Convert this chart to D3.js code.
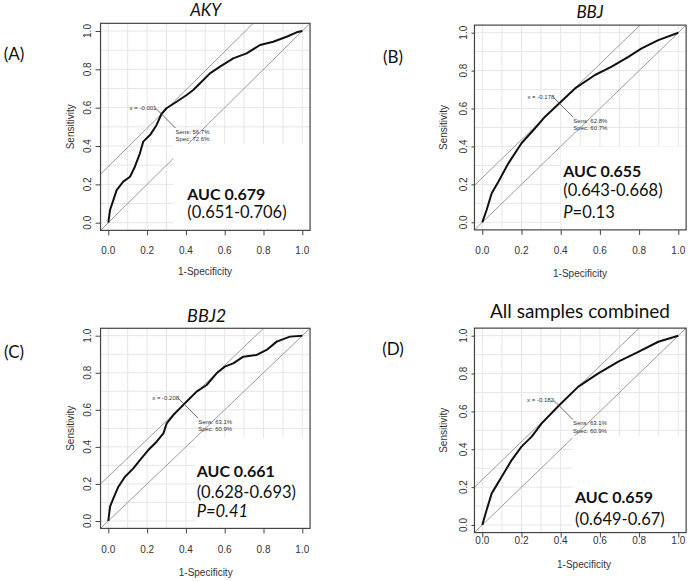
<!DOCTYPE html>
<html><head><meta charset="utf-8">
<script src="https://cdn.jsdelivr.net/npm/d3@7"></script>
<style>body{margin:0;background:#fff}</style></head>
<body><svg id="c" width="689" height="581"></svg>
<script>
// ---------- data ----------
const panelLetters = ["(A)", "(B)", "(C)", "(D)"];
const titles = ["AKY", "BBJ", "BBJ2", "All samples combined"];
const titleItalic = [true, true, true, false];
const aucLabels = ["AUC 0.679", "AUC 0.655", "AUC 0.661", "AUC 0.659"];
const ciLabels = ["(0.651-0.706)", "(0.643-0.668)", "(0.628-0.693)", "(0.649-0.67)"];
const pValues = [null, "0.13", "0.41", null];
const thresholdLabels = ["x = -0.001", "x = -0.178", "x = -0.208", "x = -0.182"];
const sensLabels = ["Sens: 56.7%", "Sens: 62.8%", "Sens: 63.1%", "Sens: 63.1%"];
const specLabels = ["Spec: 72.6%", "Spec: 60.7%", "Spec: 60.9%", "Spec: 60.9%"];
const cutFpr = [0.274, 0.393, 0.391, 0.391];
const cutTpr = [0.567, 0.628, 0.631, 0.631];
const tickValues = [0, 0.2, 0.4, 0.6, 0.8, 1.0];
const gridValues = [0, 0.1, 0.2, 0.3, 0.4, 0.5, 0.6, 0.7, 0.8, 0.9, 1.0];

const fprA = [0,0.009,0.026,0.043,0.077,0.112,0.137,0.163,0.180,0.215,0.249,0.274,0.30,0.352,0.404,0.438,0.473,0.524,0.576,0.644,0.713,0.782,0.85,0.919,0.971,1.0];
const tprA = [0,0.066,0.118,0.17,0.214,0.24,0.292,0.362,0.423,0.457,0.51,0.567,0.597,0.631,0.666,0.692,0.727,0.779,0.814,0.857,0.883,0.927,0.944,0.97,0.993,1.0];
const fprB = [0,0.022,0.048,0.082,0.133,0.2,0.269,0.32,0.393,0.473,0.575,0.66,0.745,0.813,0.898,1.0];
const tprB = [0,0.065,0.153,0.214,0.311,0.417,0.496,0.557,0.628,0.706,0.777,0.821,0.873,0.917,0.961,1.0];
const fprC = [0,0.009,0.026,0.052,0.086,0.129,0.163,0.206,0.249,0.284,0.301,0.335,0.369,0.391,0.455,0.507,0.558,0.601,0.644,0.696,0.765,0.816,0.868,0.936,1.0];
const tprC = [0,0.077,0.122,0.185,0.239,0.284,0.329,0.383,0.428,0.473,0.527,0.572,0.608,0.631,0.698,0.734,0.797,0.833,0.851,0.887,0.896,0.923,0.968,0.995,1.0];
const fprD = [0,0.022,0.048,0.099,0.15,0.2,0.252,0.303,0.391,0.49,0.592,0.694,0.796,0.898,1.0];
const tprD = [0,0.079,0.167,0.255,0.343,0.414,0.467,0.537,0.631,0.731,0.801,0.863,0.915,0.968,1.0];
const curves = [[fprA,tprA],[fprB,tprB],[fprC,tprC],[fprD,tprD]];

// ---------- layout ----------
const layout = [
  {xr:[108.3,302.3], yr:[222.7,31.0], title:[205.7,16,17], lab:[14,60], auc:[187.3,[199.5,218,236]], xtY:254, xtitle:[205,275], ytX:91, ytitleX:74, box:[0.335,0.41]},
  {xr:[482.3,678.3], yr:[222.3,32.7], title:[590,18,17], lab:[393,63], auc:[563.3,[176.5,196,218]], xtY:254, xtitle:[580,277], ytX:467, ytitleX:447, box:[0.40,0.40]},
  {xr:[108.3,302.3], yr:[521.0,335.7], title:[206.7,321.5,18], lab:[14,358], auc:[196.7,[476.5,498,517]], xtY:553, xtitle:[205.7,576], ytX:91, ytitleX:74, box:[0.45,0.45]},
  {xr:[482.3,678.3], yr:[525.0,335.7], title:[580,318,19], lab:[393,355], auc:[575,[503,524.5,545]], xtY:544, xtitle:[584,568], ytX:467, ytitleX:447, box:[0.46,0.47]}
];

const svg = d3.select("#c");
const axisFont = "'Liberation Sans Narrow','Liberation Sans',Arial,sans-serif";
const textFont = "Lato,'Open Sans',sans-serif";

layout.forEach((L, i) => {
  const x = d3.scaleLinear().domain([0,1]).range(L.xr);
  const y = d3.scaleLinear().domain([0,1]).range(L.yr);
  const x0 = x(-0.04), x1 = x(1.04), y0 = y(-0.04), y1 = y(1.04);
  const g = svg.append("g");
  const clipId = "clip" + i;
  g.append("clipPath").attr("id", clipId).append("rect")
    .attr("x", x0).attr("y", y1).attr("width", x1 - x0).attr("height", y0 - y1);
  const pg = g.append("g").attr("clip-path", `url(#${clipId})`);

  // grid
  pg.selectAll(".gx").data(gridValues).join("line")
    .attr("x1", d => x(d)).attr("x2", d => x(d)).attr("y1", y1).attr("y2", y0)
    .attr("stroke", "#e6e6e6").attr("stroke-width", 1);
  pg.selectAll(".gy").data(gridValues).join("line")
    .attr("y1", d => y(d)).attr("y2", d => y(d)).attr("x1", x0).attr("x2", x1)
    .attr("stroke", "#e6e6e6").attr("stroke-width", 1);

  // chance diagonal and parallel line through cut-point
  const intercept = cutTpr[i] - cutFpr[i];
  pg.append("line").attr("x1", x(-0.04)).attr("y1", y(-0.04)).attr("x2", x(1.04)).attr("y2", y(1.04))
    .attr("stroke", "#9a9a9a").attr("stroke-width", 1);
  pg.append("line").attr("x1", x(-0.04)).attr("y1", y(-0.04 + intercept)).attr("x2", x(1.04)).attr("y2", y(1.04 + intercept))
    .attr("stroke", "#9a9a9a").attr("stroke-width", 1);

  // white box behind AUC text
  pg.append("rect").attr("x", x(L.box[0])).attr("y", y(L.box[1]))
    .attr("width", x1 - x(L.box[0])).attr("height", y0 - y(L.box[1])).attr("fill", "#fff");

  // ROC curve
  const [fx, ty] = curves[i];
  const pts = fx.map((v, k) => [v, ty[k]]);
  pg.append("path").datum(pts)
    .attr("d", d3.line().x(d => x(d[0])).y(d => y(d[1])))
    .attr("fill", "none").attr("stroke", "#111").attr("stroke-width", 2).attr("stroke-linejoin", "round");

  // cut-point annotation
  const cx = x(cutFpr[i]), cy = y(cutTpr[i]);
  g.append("line").attr("x1", cx - 6).attr("y1", cy - 6).attr("x2", cx + 14).attr("y2", cy + 14)
    .attr("stroke", "#444").attr("stroke-width", 0.8);
  g.append("text").attr("x", cx - 5).attr("y", cy - 4).attr("text-anchor", "end")
    .attr("font-family", axisFont).attr("font-size", 6).attr("fill", "#333").text(thresholdLabels[i]);
  g.append("text").attr("x", cx + 14).attr("y", cy + 19.5)
    .attr("font-family", axisFont).attr("font-size", 6).attr("fill", "#333").text(sensLabels[i]);
  g.append("text").attr("x", cx + 14).attr("y", cy + 27)
    .attr("font-family", axisFont).attr("font-size", 6).attr("fill", "#333").text(specLabels[i]);

  // frame
  g.append("rect").attr("x", x0).attr("y", y1).attr("width", x1 - x0).attr("height", y0 - y1)
    .attr("fill", "none").attr("stroke", "#444").attr("stroke-width", 1.2);

  // axes
  const xa = d3.axisBottom(x).tickValues(tickValues).tickFormat(d3.format(".1f")).tickSize(5).tickPadding(6);
  const xg = g.append("g").attr("transform", `translate(0,${y0})`).call(xa);
  xg.select(".domain").remove();
  xg.selectAll("line").attr("stroke", "#444");
  xg.selectAll("text").remove();
  g.selectAll(".xtl").data(tickValues).join("text")
    .attr("x", d => x(d)).attr("y", L.xtY).attr("text-anchor", "middle")
    .attr("font-family", axisFont).attr("font-size", 10).attr("fill", "#333")
    .text(d3.format(".1f"));
  const ya = d3.axisLeft(y).tickValues(tickValues).tickSize(i % 2 ? 3 : 5);
  const yg = g.append("g").attr("transform", `translate(${x0},0)`).call(ya);
  yg.select(".domain").remove();
  yg.selectAll("line").attr("stroke", "#444");
  yg.selectAll("text").remove();
  g.selectAll(".ytl").data(tickValues).join("text")
    .attr("transform", d => `translate(${L.ytX},${y(d)}) rotate(-90)`).attr("text-anchor", "middle")
    .attr("font-family", axisFont).attr("font-size", 10).attr("fill", "#333")
    .text(d3.format(".1f"));

  // axis titles
  g.append("text").attr("x", L.xtitle[0]).attr("y", L.xtitle[1]).attr("text-anchor", "middle")
    .attr("font-family", axisFont).attr("font-size", 10).attr("fill", "#333").text("1-Specificity");
  g.append("text").attr("transform", `translate(${L.ytitleX},${(y0 + y1) / 2}) rotate(-90)`).attr("text-anchor", "middle")
    .attr("font-family", axisFont).attr("font-size", 10).attr("fill", "#333").text("Sensitivity");

  // title and panel letter
  g.append("text").attr("x", L.title[0]).attr("y", L.title[1]).attr("text-anchor", "middle")
    .attr("font-family", textFont).attr("font-size", L.title[2])
    .attr("font-style", titleItalic[i] ? "italic" : "normal").attr("fill", "#111").text(titles[i]);
  g.append("text").attr("x", L.lab[0]).attr("y", L.lab[1]).attr("text-anchor", "middle")
    .attr("font-family", textFont).attr("font-size", 17).attr("fill", "#111").text(panelLetters[i]);

  // AUC text
  g.append("text").attr("x", L.auc[0]).attr("y", L.auc[1][0])
    .attr("font-family", textFont).attr("font-size", 16).attr("font-weight", "bold").attr("fill", "#111").text(aucLabels[i]);
  g.append("text").attr("x", L.auc[0]).attr("y", L.auc[1][1])
    .attr("font-family", textFont).attr("font-size", 16.5).attr("fill", "#111").text(ciLabels[i]);
  if (pValues[i]) {
    const t = g.append("text").attr("x", L.auc[0]).attr("y", L.auc[1][2])
      .attr("font-family", textFont).attr("font-size", 16.5).attr("fill", "#111");
    t.append("tspan").attr("font-style", "italic").text("P");
    t.append("tspan").attr("font-style", i === 2 ? "italic" : "normal").text("=" + pValues[i]);
  }
});
</script>
</body></html>
